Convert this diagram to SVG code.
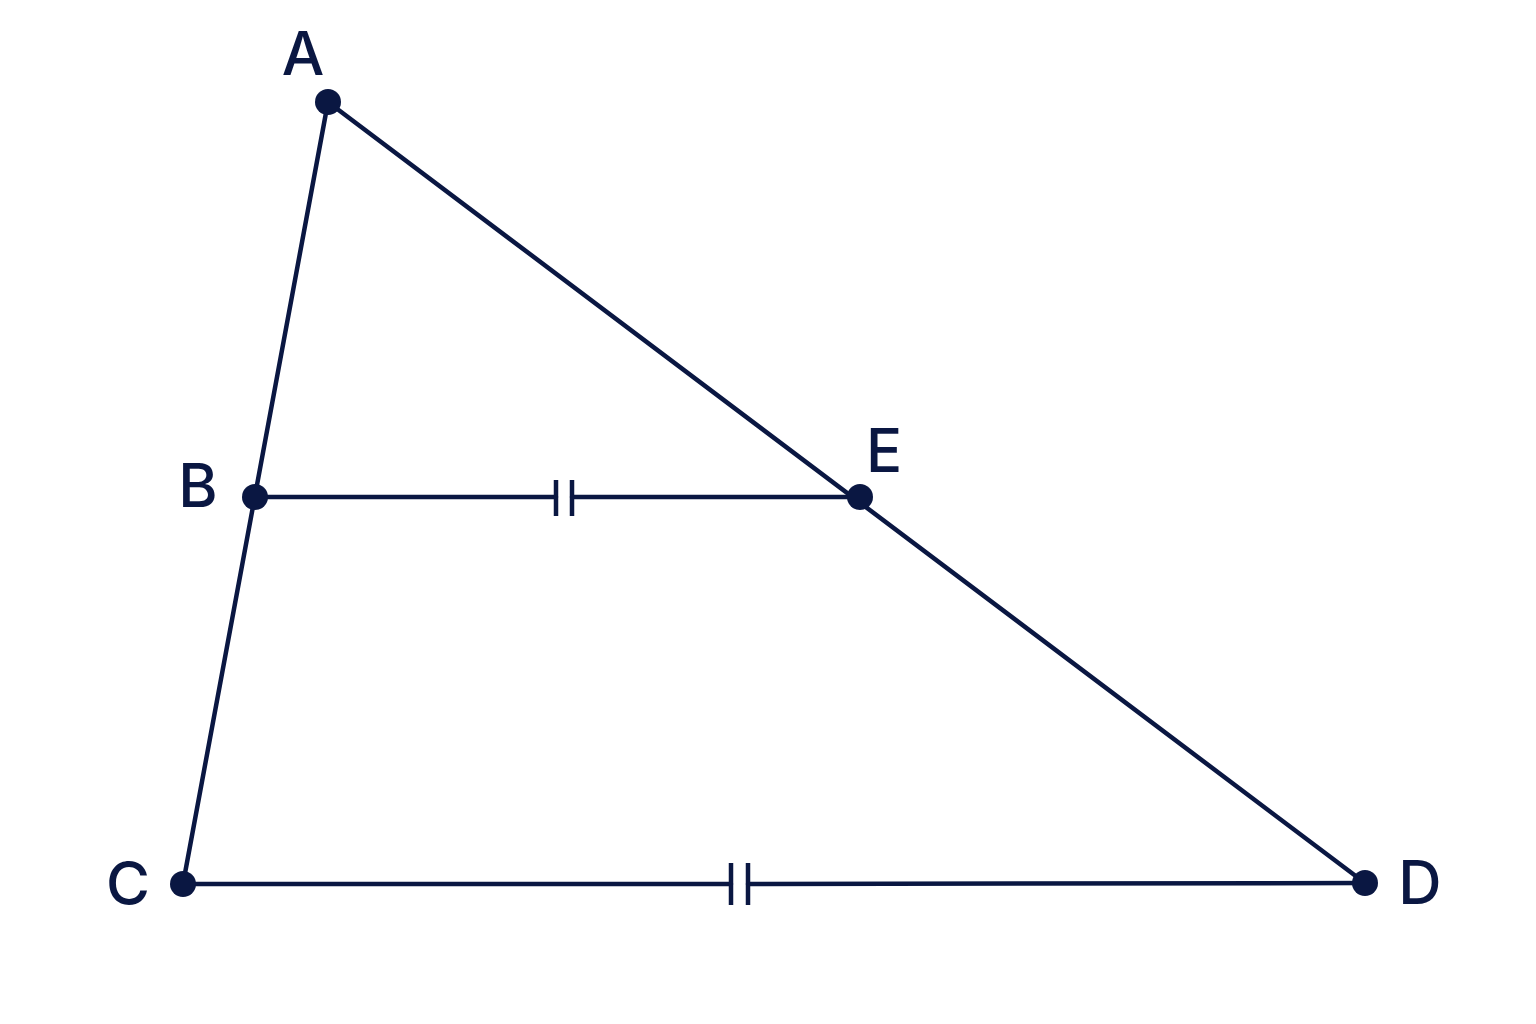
<svg xmlns="http://www.w3.org/2000/svg" width="1536" height="1024" viewBox="0 0 1536 1024">
<style>
.ln{stroke:#0a1742;stroke-width:4.5;fill:none;stroke-linecap:round}
.tk{stroke:#0a1742;stroke-width:4.5;fill:none}
.pt{fill:#0a1742}
.lb{font-family:Inter,"Noto Sans","Liberation Sans",sans-serif;font-size:60px;font-weight:500;fill:#0a1742;text-anchor:middle}
</style>
<rect width="1536" height="1024" fill="#ffffff"/>
<g id="connectors">
<line class="ln" x1="328" y1="102" x2="183" y2="884"/>
<line class="ln" x1="328" y1="102" x2="1365" y2="883"/>
<line class="ln" x1="255" y1="497" x2="556" y2="497"/>
<line class="ln" x1="572" y1="497" x2="860" y2="497"/>
<line class="tk" x1="556" y1="480" x2="556" y2="516"/>
<line class="tk" x1="572" y1="480" x2="572" y2="516"/>
<line class="ln" x1="183" y1="884" x2="731" y2="884"/>
<line class="ln" x1="748" y1="884" x2="1365" y2="883"/>
<line class="tk" x1="731" y1="863" x2="731" y2="905"/>
<line class="tk" x1="748" y1="863" x2="748" y2="905"/>
</g>
<g id="A"><circle class="pt" cx="328" cy="102" r="13"/><text class="lb" x="303" y="75">A</text></g>
<g id="B"><circle class="pt" cx="255" cy="497" r="13"/><text class="lb" x="198" y="507">B</text></g>
<g id="E"><circle class="pt" cx="860" cy="497" r="13"/><text class="lb" x="884" y="472">E</text></g>
<g id="C"><circle class="pt" cx="183" cy="884" r="13"/><text class="lb" x="128" y="905">C</text></g>
<g id="D"><circle class="pt" cx="1365" cy="883" r="13"/><text class="lb" x="1420" y="904">D</text></g>
</svg>
